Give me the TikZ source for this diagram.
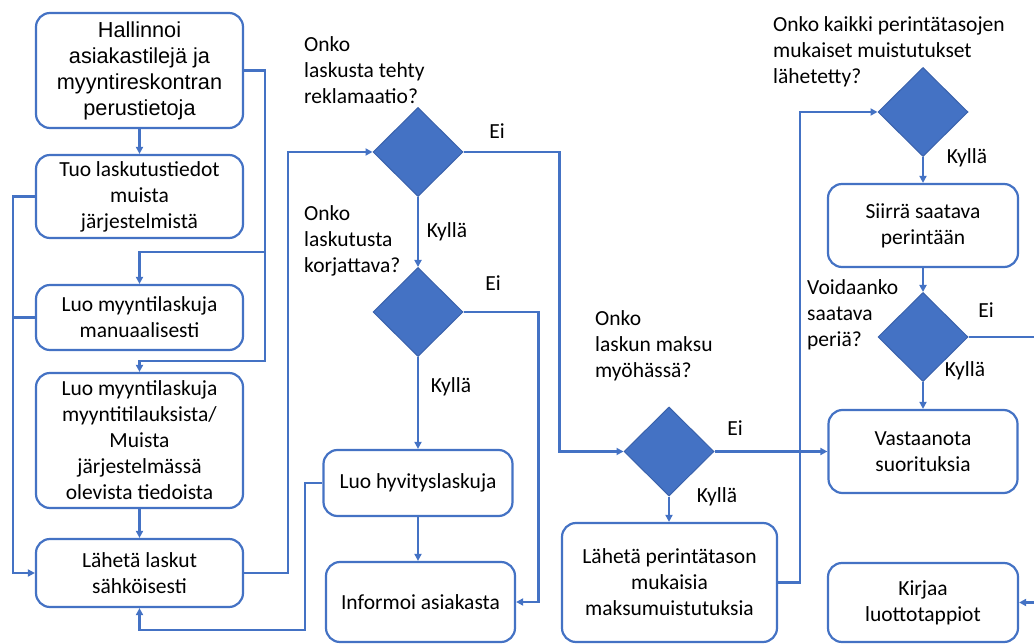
\documentclass[tikz,border=0pt]{standalone}
\usepackage{fontspec}
\setmainfont{Carlito}
\newfontfamily\arialfont{Liberation Sans}
\usetikzlibrary{shapes.geometric,arrows.meta}
\definecolor{flowblue}{HTML}{4472C4}
\definecolor{flowedge}{HTML}{3A62AC}

\begin{document}
\begin{tikzpicture}[x=1pt,y=-1pt,
    stepbox/.style={draw=flowblue, line width=2.2pt, rounded corners=14pt, fill=white,
        align=center, inner sep=0pt, font=\fontsize{21.5}{26}\selectfont},
    decision/.style={diamond, draw=flowedge, line width=1pt, fill=flowblue,
        inner sep=0pt, minimum width=90pt, minimum height=89pt},
    flow/.style={draw=flowblue, line width=2.2pt, -{Triangle[length=7pt,width=7pt]}},
    wire/.style={draw=flowblue, line width=2.2pt},
    question/.style={anchor=west, align=left, inner sep=0pt, font=\fontsize{21.5}{26}\selectfont},
    answer/.style={inner sep=0pt, font=\fontsize{21.5}{26}\selectfont}]

    % Page frame in pixels of the original chart
    \useasboundingbox (0,0) rectangle (1034,644);

    % 1. Left column: invoicing steps
    \node[stepbox, minimum width=207pt, minimum height=115pt, font=\arialfont\fontsize{21.7}{26}\selectfont]
        (hallinnoi) at (139.5,70.5) {Hallinnoi\\asiakastilejä ja\\myyntireskontran\\perustietoja};
    \node[stepbox, minimum width=207pt, minimum height=83pt] (tuo) at (139.5,196.5) {Tuo laskutustiedot\\muista\\järjestelmistä};
    \node[stepbox, minimum width=207pt, minimum height=65pt] (manuaali) at (139.5,317.5) {Luo myyntilaskuja\\manuaalisesti};
    \node[stepbox, minimum width=207pt, minimum height=135pt] (tilaus) at (139.5,440.5)
        {Luo myyntilaskuja\\myyntitilauksista/\\Muista\\järjestelmässä\\olevista tiedoista};
    \node[stepbox, minimum width=207pt, minimum height=68pt] (laheta) at (139.5,573) {Lähetä laskut\\sähköisesti};

    % 2. Middle column: complaints
    \node[decision] (reklamaatio) at (418,152) {};
    \node[decision] (korjaus) at (418,312) {};
    \node[stepbox, minimum width=189pt, minimum height=66pt] (hyvitys) at (418,483) {Luo hyvityslaskuja};
    \node[stepbox, minimum width=189pt, minimum height=80pt] (informoi) at (420.5,602) {Informoi asiakasta};

    % 3. Payment and collection
    \node[decision] (myohassa) at (669,451.5) {};
    \node[stepbox, minimum width=215pt, minimum height=119pt] (muistutus) at (669.5,582.5)
        {Lähetä perintätason\\mukaisia\\maksumuistutuksia};
    \node[decision] (lahetetty) at (923,112) {};
    \node[stepbox, minimum width=190pt, minimum height=83pt] (siirra) at (923,225.5) {Siirrä saatava\\perintään};
    \node[decision] (peria) at (923,337) {};
    \node[stepbox, minimum width=189pt, minimum height=83pt] (vastaanota) at (923,451.5) {Vastaanota\\suorituksia};
    \node[stepbox, minimum width=190pt, minimum height=79pt] (kirjaa) at (923,602.5) {Kirjaa\\luottotappiot};

    % 4. Questions beside the diamonds
    \node[question] (q1) at (304,70) {Onko\\laskusta tehty\\reklamaatio?};
    \node[question] (q2) at (304,241) {Onko\\laskutusta\\korjattava?};
    \node[question] (q3) at (595,346) {Onko\\laskun maksu\\myöhässä?};
    \node[question] (q4) at (773,52) {Onko kaikki perintätasojen\\mukaiset muistutukset\\lähetetty?};
    \node[question] (q5) at (807,315) {Voidaanko\\saatava\\periä?};

    % 5. Bus corners
    \coordinate (rightbus) at (265,361);
    \coordinate (branch) at (265,252);
    \coordinate (hyvbus) at (305,630);

    % 6. Connectors
    \draw[flow] (hallinnoi.south) -- (tuo.north);
    \draw[flow] (hallinnoi.east) -| (rightbus) -| (tilaus.north);
    \draw[flow] (branch) -| (manuaali.north);
    \draw[flow] (tuo.west) -- ++(-22,0) |- (laheta.west);
    \draw[wire] (manuaali.west) -- ++(-22,0);
    \draw[flow] (tilaus.south) -- (laheta.north);
    \draw[flow] (laheta.east) -- ++(44,0) |- (reklamaatio.west);

    \draw[flow] (reklamaatio.east) -- ++(96,0) |- (myohassa.west);
    \draw[flow] (reklamaatio.south) -- (korjaus.north);
    \draw[flow] (korjaus.east) -- ++(75,0) |- (informoi.east);
    \draw[flow] (korjaus.south) -- (hyvitys.north);
    \draw[flow] (hyvitys.west) -| (hyvbus) -| (laheta.south);
    \draw[flow] (hyvitys.south |- hyvitys.south) -- (hyvitys.south |- informoi.north);

    \draw[flow] (myohassa.east) -- (vastaanota.west);
    \draw[flow] (myohassa.south) -- (muistutus.north -| myohassa.south);
    \draw[flow] (muistutus.east) -- ++(22,0) |- (lahetetty.west);
    \draw[flow] (lahetetty.south) -- (siirra.north);
    \draw[flow] (siirra.south) -- (peria.north);
    \draw[flow] (peria.south) -- (vastaanota.north);
    \draw[flow] (peria.east) -- ++(75,0) |- (kirjaa.east);

    % 7. Answers
    \node[answer] (ei1) at (497,131) {Ei};
    \node[answer] (kylla1) at (447,232) {Kyllä};
    \node[answer] (ei2) at (493,283) {Ei};
    \node[answer] (kylla2) at (451,387) {Kyllä};
    \node[answer] (ei3) at (735,428) {Ei};
    \node[answer] (kylla3) at (717,497) {Kyllä};
    \node[answer] (kylla4) at (967,158) {Kyllä};
    \node[answer] (ei5) at (986,310) {Ei};
    \node[answer] (kylla5) at (965,371) {Kyllä};

\end{tikzpicture}
\end{document}
